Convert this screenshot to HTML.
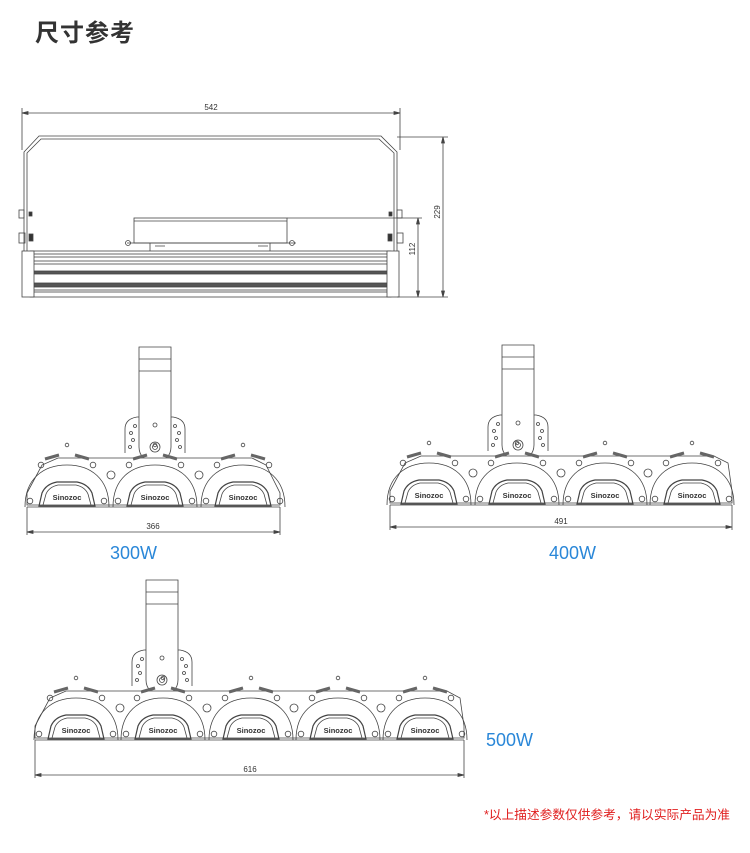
<!DOCTYPE html>
<html><head><meta charset="utf-8"><style>
html,body{margin:0;padding:0;background:#fff;}
body{width:750px;height:853px;position:relative;overflow:hidden;font-family:"Liberation Sans","Noto Sans CJK SC",sans-serif;}
.t{position:absolute;white-space:nowrap;}
</style></head><body>
<div class="t" style="left:35px;top:13px;font-size:24px;font-weight:bold;color:#333;letter-spacing:1px;">尺寸参考</div>
<div class="t" style="left:110px;top:543px;font-size:18px;color:#2a87d8;">300W</div>
<div class="t" style="left:549px;top:543px;font-size:18px;color:#2a87d8;">400W</div>
<div class="t" style="left:486px;top:730px;font-size:18px;color:#2a87d8;">500W</div>
<div class="t" style="left:484px;top:804px;font-size:12.7px;color:#e02020;">*以上描述参数仅供参考，请以实际产品为准</div>
<svg width="750" height="853" style="position:absolute;left:0;top:0" xmlns="http://www.w3.org/2000/svg" fill="none" stroke="#444" stroke-width="0.8">
<defs>
<g id="m">
<path d="M-42,52 C-42,24 -24,10 0,10 C24,10 42,24 42,52"/>
<path d="M-28,51 L-25,38 Q-21,29 -10,27 L10,27 Q21,29 25,38 L28,51 Z" stroke-width="1.2"/>
<path d="M-24,50 L-21,39 Q-18,32 -9,30 L9,30 Q18,32 21,39 L24,50" />
<text x="0" y="45" font-size="7.5" font-weight="bold" fill="#333" stroke="none" text-anchor="middle" font-family="Liberation Sans,sans-serif">Sinozoc</text>
<circle cx="-37" cy="46" r="2.8"/><circle cx="37" cy="46" r="2.8"/>
<circle cx="-26" cy="10" r="2.8"/><circle cx="26" cy="10" r="2.8"/>
<circle cx="0" cy="-10" r="1.8"/>
<path d="M-22,4 L-8,0" stroke-width="3" stroke="#666"/>
<path d="M22,4 L8,0" stroke-width="3" stroke="#666"/>
</g>
<g id="arm">
<path d="M-30,-2 L-30,-26 Q-30,-36 -18,-38 L18,-38 Q30,-36 30,-26 L30,-2"/>
<circle cx="-24" cy="-22" r="1.5"/><circle cx="-22" cy="-15" r="1.5"/><circle cx="-25" cy="-8" r="1.5"/><circle cx="-20" cy="-29" r="1.5"/>
<circle cx="24" cy="-22" r="1.5"/><circle cx="22" cy="-15" r="1.5"/><circle cx="25" cy="-8" r="1.5"/><circle cx="20" cy="-29" r="1.5"/>
<path d="M-16,-108 L16,-108 L16,-8 A16,16 0 0 1 -16,-8 Z" fill="#fff"/>
<line x1="-16" y1="-96" x2="16" y2="-96"/><line x1="-16" y1="-84" x2="16" y2="-84"/>
<circle cx="0" cy="-8" r="5"/><circle cx="0" cy="-8" r="2.5"/>
<circle cx="0" cy="-30" r="2"/>
</g>
</defs>

<!-- top view -->
<g>
<line x1="22" y1="113" x2="400" y2="113"/>
<line x1="22" y1="108" x2="22" y2="150"/><line x1="400" y1="108" x2="400" y2="150"/>
<path d="M22,113 l6,-1.5 v3z M400,113 l-6,-1.5 v3z" fill="#444"/>
<text x="211" y="110" font-size="8" fill="#333" stroke="none" text-anchor="middle">542</text>
<path d="M24,282 L24,152 L39,136 L381,136 L397,152 L397,282"/>
<path d="M27,282 L27,153 L41,139 L379,139 L394,153 L394,282"/>
<rect x="134" y="218" width="153" height="25"/>
<line x1="134" y1="221" x2="287" y2="221"/>
<path d="M127,243 L296,243 M150,243 v8 M270,243 v8 M155,246 h10 M258,246 h10"/>
<circle cx="128" cy="243" r="2.5"/><circle cx="292" cy="243" r="2.5"/>
<rect x="30" y="251" width="361" height="46"/>
<rect x="30" y="254" width="361" height="3"/>
<rect x="30" y="261" width="361" height="3"/>
<rect x="30" y="271" width="361" height="3" fill="#555"/>
<rect x="30" y="283" width="361" height="4" fill="#555"/>
<rect x="30" y="290" width="361" height="2"/>
<rect x="22" y="251" width="12" height="46" fill="#fff"/>
<rect x="387" y="251" width="12" height="46" fill="#fff"/>
<rect x="19" y="210" width="5" height="8"/><rect x="19" y="233" width="6" height="10"/>
<rect x="397" y="210" width="5" height="8"/><rect x="397" y="233" width="6" height="10"/>
<rect x="29" y="212" width="3" height="4" fill="#333"/><rect x="29" y="234" width="4" height="7" fill="#333"/>
<rect x="389" y="212" width="3" height="4" fill="#333"/><rect x="388" y="234" width="4" height="7" fill="#333"/>
<line x1="287" y1="218" x2="422" y2="218"/>
<line x1="397" y1="137" x2="448" y2="137"/>
<line x1="397" y1="297" x2="448" y2="297"/>
<line x1="443" y1="137" x2="443" y2="297"/>
<line x1="418" y1="218" x2="418" y2="297"/>
<path d="M443,137 l-1.5,6 h3z M443,297 l-1.5,-6 h3z M418,218 l-1.5,6 h3z M418,297 l-1.5,-6 h3z" fill="#444"/>
<text x="0" y="0" font-size="8" fill="#333" stroke="none" text-anchor="middle" transform="translate(440,212) rotate(-90)">229</text>
<text x="0" y="0" font-size="8" fill="#333" stroke="none" text-anchor="middle" transform="translate(415,249) rotate(-90)">112</text>
</g>

<!-- 300W -->
<g transform="translate(0,455)">
<use href="#arm" x="155" y="0"/>
<path d="M27,50 L27,38 L42,10 L58,3 L252,3 L266,10 L280,38 L280,50 Z" fill="#fff"/>
<use href="#m" x="67"/><use href="#m" x="155"/><use href="#m" x="243"/>
<circle cx="111" cy="20" r="4"/><circle cx="199" cy="20" r="4"/>
<line x1="27" y1="52" x2="280" y2="52"/>
<line x1="27" y1="52" x2="27" y2="80"/><line x1="280" y1="52" x2="280" y2="80"/>
<line x1="27" y1="77" x2="280" y2="77"/>
<path d="M27,77 l6,-1.5 v3z M280,77 l-6,-1.5 v3z" fill="#444"/>
<text x="153" y="74" font-size="8" fill="#333" stroke="none" text-anchor="middle">366</text>
</g>

<!-- 400W -->
<g transform="translate(0,453)">
<use href="#arm" x="518" y="0"/>
<path d="M390,50 L390,38 L405,10 L421,3 L714,3 L728,10 L732,38 L732,50 Z" fill="#fff"/>
<use href="#m" x="429"/><use href="#m" x="517"/><use href="#m" x="605"/><use href="#m" x="692"/>
<circle cx="473" cy="20" r="4"/><circle cx="561" cy="20" r="4"/><circle cx="648" cy="20" r="4"/>
<line x1="390" y1="52" x2="732" y2="52"/>
<line x1="390" y1="52" x2="390" y2="77"/><line x1="732" y1="52" x2="732" y2="77"/>
<line x1="390" y1="74" x2="732" y2="74"/>
<path d="M390,74 l6,-1.5 v3z M732,74 l-6,-1.5 v3z" fill="#444"/>
<text x="561" y="71" font-size="8" fill="#333" stroke="none" text-anchor="middle">491</text>
</g>

<!-- 500W -->
<g transform="translate(0,688)">
<use href="#arm" x="162" y="0"/>
<path d="M35,50 L35,38 L50,10 L66,3 L447,3 L460,10 L464,38 L464,50 Z" fill="#fff"/>
<use href="#m" x="76"/><use href="#m" x="163"/><use href="#m" x="251"/><use href="#m" x="338"/><use href="#m" x="425"/>
<circle cx="120" cy="20" r="4"/><circle cx="207" cy="20" r="4"/><circle cx="294" cy="20" r="4"/><circle cx="381" cy="20" r="4"/>
<line x1="35" y1="52" x2="464" y2="52"/>
<line x1="35" y1="52" x2="35" y2="90"/><line x1="464" y1="52" x2="464" y2="90"/>
<line x1="35" y1="87" x2="464" y2="87"/>
<path d="M35,87 l6,-1.5 v3z M464,87 l-6,-1.5 v3z" fill="#444"/>
<text x="250" y="84" font-size="8" fill="#333" stroke="none" text-anchor="middle">616</text>
</g>
</svg>
</body></html>
